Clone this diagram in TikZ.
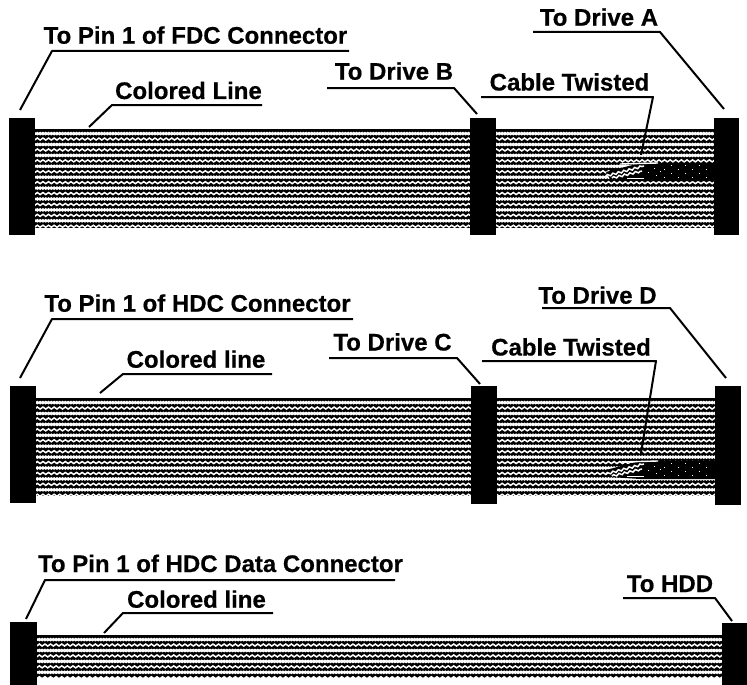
\documentclass[tikz,border=0pt]{standalone}
\usepackage{fontspec}
\setmainfont{Liberation Sans}[BoldFont=* Bold,BoldFeatures={FakeBold=0.5}]
\usetikzlibrary{decorations.pathmorphing}
\tikzset{
  lbl/.style={font=\fontsize{24}{28}\selectfont\bfseries, inner sep=0pt, anchor=base, text=black},
  leader/.style={draw=black, line width=2pt, line join=round},
  plug/.style={fill=black, draw=none, inner sep=0pt, minimum width=26, minimum height=117, rectangle},
  wave/.style={draw=white, line width=1.5pt, decorate, decoration={snake, segment length=5.6, amplitude=1}},
  wavem/.style={draw=white, line width=1.5pt, decorate, decoration={snake, segment length=5.6, amplitude=1, mirror}},
  gapline/.style={draw=black, line width=1.2pt}
}
% #1 x left, #2 x right, #3 top, #4 bottom
\newcommand{\ribbon}[4]{%
  \fill[black] (#1,#3) rectangle (#2,#4);
  \pgfmathsetmacro{\rowcount}{int((#4-#3-4)/5.45)}
  \foreach \r in {0,...,\rowcount}{
    \pgfmathsetmacro{\rowy}{#3+4.6+\r*5.45}
    \pgfmathtruncatemacro{\odd}{mod(\r,2)}
    \ifnum\odd=0
      \draw[wavem] (#1,\rowy) -- (#2,\rowy);
    \fi
    \draw[wave] (#1,\rowy) -- (#2,\rowy);
  }
}
% twist at base line #1
\newcommand{\twist}[1]{%
  \fill[black] (606,#1+10) -- (640,#1+1) -- (716,#1+1) -- (716,#1+19) -- (640,#1+19) -- (610,#1+17) -- cycle;
  \foreach \dy [count=\i] in {3,7,11,15}{
    \foreach \dx in {664,671,...,710}{
      \pgfmathtruncatemacro{\keep}{mod(\dx+\i*3,2)}
      \ifnum\keep=0
        \fill[white] (\dx,#1+\dy) rectangle ++(1.2,1.2);
      \fi
    }
  }
  \foreach \dx/\dy in {648/10,654/6,656/13,660/9}{
    \fill[white] (\dx,#1+\dy) rectangle ++(1,1);
  }
  \draw[white, line width=1.4pt] (620,#1+2) -- (658,#1+1);
  \draw[white, line width=1.4pt] (627,#1+16.5) -- (644,#1+16.5);
  \draw[wave] (606,#1+14) -- (644,#1+4);
  \draw[wave] (612,#1+16) -- (642,#1+9);
}
\begin{document}
\begin{tikzpicture}[x=1pt,y=-1pt]
\useasboundingbox (0,0) rectangle (747,685);
\fill[white] (0,0) rectangle (747,685);

% ribbons
\ribbon{30}{720}{129}{227.5}
\ribbon{30}{720}{398}{496}
\ribbon{32}{728}{635}{678}
\twist{162}
\twist{460}

% connectors
\node[plug] (p1) at (22,176.5) {};
\node[plug] (p2) at (482.5,176.5) {};
\node[plug, minimum width=25] (p3) at (726.5,176.5) {};
\node[plug] (p4) at (23,444) {};
\node[plug, minimum height=118] (p5) at (484,445) {};
\node[plug, minimum height=119] (p6) at (728,445.5) {};
\node[plug, minimum width=27, minimum height=63] (p7) at (23.5,653.5) {};
\node[plug, minimum width=25, minimum height=62] (p8) at (734.5,654) {};

% first cable labels
\node[lbl] (t1) at (195.5,43.7) {To Pin 1 of FDC Connector};
\coordinate (t1a) at (349,51); \coordinate (t1b) at (52,51); \coordinate (t1c) at (20,110);
\draw[leader] (t1a) -- (t1b) -- (t1c);
\node[lbl] (t2) at (188.5,99) {Colored Line};
\coordinate (t2a) at (262,105); \coordinate (t2b) at (112,105); \coordinate (t2c) at (89,127);
\draw[leader] (t2a) -- (t2b) -- (t2c);
\node[lbl] (t3) at (394,79.7) {To Drive B};
\coordinate (t3a) at (327,88); \coordinate (t3b) at (454,88); \coordinate (t3c) at (477,114);
\draw[leader] (t3a) -- (t3b) -- (t3c);
\node[lbl] (t4) at (599,25.7) {To Drive A};
\coordinate (t4a) at (533,32); \coordinate (t4b) at (660,32); \coordinate (t4c) at (724,109);
\draw[leader] (t4a) -- (t4b) -- (t4c);
\node[lbl] (t5) at (569.5,90.5) {Cable Twisted};
\coordinate (t5a) at (481,97); \coordinate (t5b) at (653,97); \coordinate (t5c) at (641,155);
\draw[leader] (t5a) -- (t5b) -- (t5c);

% second cable labels
\node[lbl] (u1) at (197.5,311.7) {To Pin 1 of HDC Connector};
\coordinate (u1a) at (353,319); \coordinate (u1b) at (52,319); \coordinate (u1c) at (20,378);
\draw[leader] (u1a) -- (u1b) -- (u1c);
\node[lbl] (u2) at (196,367.7) {Colored line};
\coordinate (u2a) at (272,374); \coordinate (u2b) at (123,374); \coordinate (u2c) at (100,393);
\draw[leader] (u2a) -- (u2b) -- (u2c);
\node[lbl] (u3) at (392.5,350.5) {To Drive C};
\coordinate (u3a) at (329,358); \coordinate (u3b) at (457,358); \coordinate (u3c) at (480,384);
\draw[leader] (u3a) -- (u3b) -- (u3c);
\node[lbl] (u4) at (597.5,303.7) {To Drive D};
\coordinate (u4a) at (542,308); \coordinate (u4b) at (670,308); \coordinate (u4c) at (726,378);
\draw[leader] (u4a) -- (u4b) -- (u4c);
\node[lbl] (u5) at (571,355.5) {Cable Twisted};
\coordinate (u5a) at (482,361); \coordinate (u5b) at (656,361); \coordinate (u5c) at (641,453);
\draw[leader] (u5a) -- (u5b) -- (u5c);

% third cable labels
\node[lbl] (v1) at (220.5,572) {To Pin 1 of HDC Data Connector};
\coordinate (v1a) at (395,580); \coordinate (v1b) at (45,580); \coordinate (v1c) at (26,619);
\draw[leader] (v1a) -- (v1b) -- (v1c);
\node[lbl] (v2) at (196.5,607.7) {Colored line};
\coordinate (v2a) at (273,613); \coordinate (v2b) at (123,613); \coordinate (v2c) at (104,633);
\draw[leader] (v2a) -- (v2b) -- (v2c);
\node[lbl] (v3) at (670,592) {To HDD};
\coordinate (v3a) at (623,598); \coordinate (v3b) at (715,598); \coordinate (v3c) at (732,621);
\draw[leader] (v3a) -- (v3b) -- (v3c);
\end{tikzpicture}
\end{document}
